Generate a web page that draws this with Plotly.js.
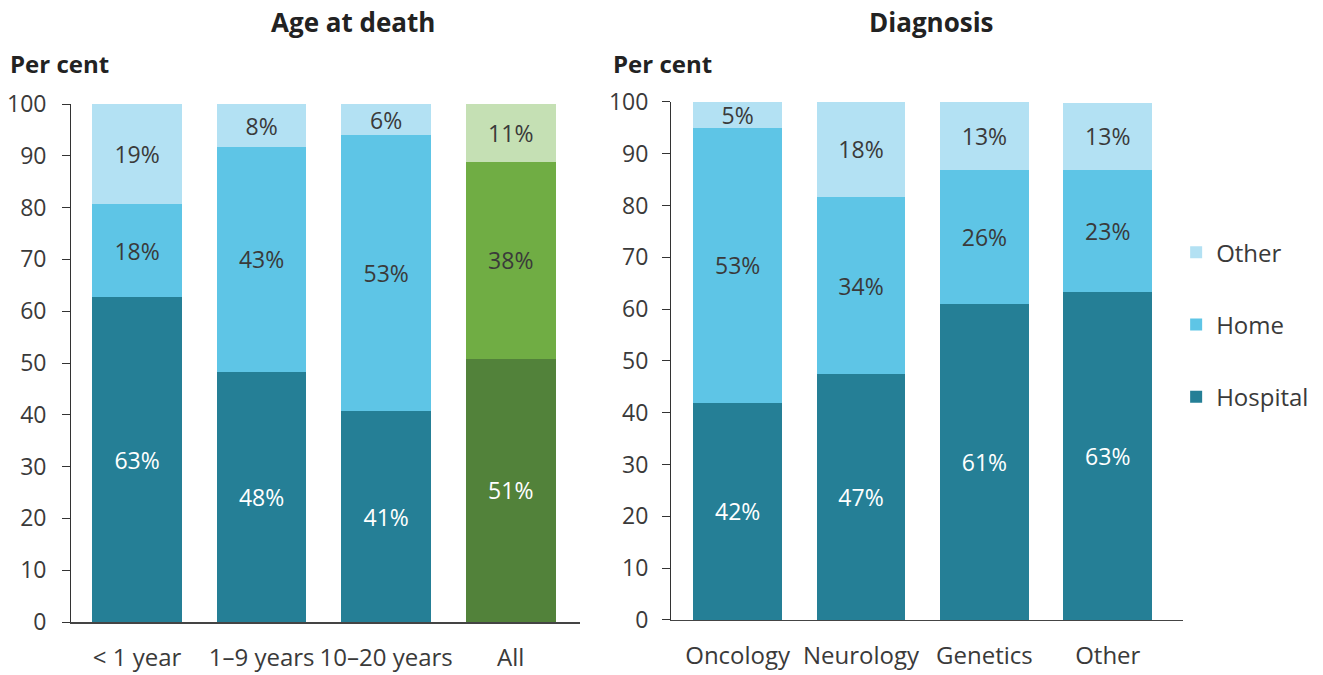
<!DOCTYPE html>
<html><head><meta charset="utf-8">
<script src="https://cdn.plot.ly/plotly-3.0.1.min.js"></script>
<style>html,body{margin:0;padding:0;background:#fff}#chart{width:1323px;height:675px}</style>
</head><body><div id="chart"></div>
<script>
// Left panel: Age at death
const ageCategories = ['< 1 year', '1–9 years', '10–20 years', 'All'];
const ageHospital = [62.7, 48.3, 40.7, 50.8];
const ageHome = [18.0, 43.4, 53.3, 38.0];
const ageOther = [19.3, 8.3, 6.0, 11.2];

// Right panel: Diagnosis
const diagCategories = ['Oncology', 'Neurology', 'Genetics', 'Other'];
const diagHospital = [41.9, 47.4, 61.0, 63.4];
const diagHome = [53.1, 34.3, 25.9, 23.4];
const diagOther = [5.0, 18.3, 13.1, 13.1];

const seriesNames = ['Hospital', 'Home', 'Other'];
const yTicks = [0, 10, 20, 30, 40, 50, 60, 70, 80, 90, 100];

const C = {hospital:'#257F96', home:'#5EC5E6', other:'#B3E1F3',
           gDark:'#52823A', gMid:'#70AD44', gLight:'#C5E0B4'};
const FONT = "'Open Sans', 'Noto Sans', sans-serif";
const dark = '#3a3a3a';

function mk(cats, vals, name, rank, colors, tcolors, xa, ya, showleg) {
  return {
    type:'bar', x:cats, y:vals, name:name, xaxis:xa, yaxis:ya,
    width:0.72, marker:{color:colors, line:{width:0}},
    texttemplate:'%{y:.0f}%', textposition:'inside', insidetextanchor:'middle',
    textangle:0, constraintext:'none',
    textfont:{family:FONT, size:23, color:tcolors},
    showlegend:showleg, legendgroup:name, legendrank:rank, hoverinfo:'skip'
  };
}
const n = 4;
const rep = (c) => Array(n).fill(c);
const traces = [
  mk(ageCategories, ageHospital, seriesNames[0], 3, [C.hospital,C.hospital,C.hospital,C.gDark], rep('#ffffff'), 'x', 'y', true),
  mk(ageCategories, ageHome, seriesNames[1], 2, [C.home,C.home,C.home,C.gMid], rep(dark), 'x', 'y', true),
  mk(ageCategories, ageOther, seriesNames[2], 1, [C.other,C.other,C.other,C.gLight], rep(dark), 'x', 'y', true),
  mk(diagCategories, diagHospital, seriesNames[0], 3, rep(C.hospital), rep('#ffffff'), 'x2', 'y2', false),
  mk(diagCategories, diagHome, seriesNames[1], 2, rep(C.home), rep(dark), 'x2', 'y2', false),
  mk(diagCategories, diagOther, seriesNames[2], 1, rep(C.other), rep(dark), 'x2', 'y2', false)
];

const yax = (dom, anchor, standoff) => ({
  domain:dom, anchor:anchor, range:[0,100], tickvals:yTicks, showgrid:false, zeroline:false,
  showline:true, linecolor:'#333', linewidth:1, ticks:'outside', ticklen:8, tickcolor:'#333',
  ticklabelstandoff:standoff, tickfont:{family:FONT, size:23, color:dark}, fixedrange:true
});
const xax = (dom, anchor, rng) => ({
  domain:dom, anchor:anchor, type:'category', range:rng, showgrid:false, zeroline:false,
  showline:true, linecolor:'#444', linewidth:1.5, ticks:'', ticklabelstandoff:14,
  tickfont:{family:FONT, size:24, color:dark}, fixedrange:true
});

const layout = {
  width:1323, height:675, margin:{l:0, r:0, t:0, b:0},
  paper_bgcolor:'#fff', plot_bgcolor:'rgba(0,0,0,0)', barmode:'stack',
  font:{family:FONT, color:dark},
  uniformtext:{mode:'show', minsize:23},
  xaxis: xax([0.0537, 0.4384], 'y', [-0.53, 3.556]),
  yaxis: yax([0.0785, 0.8459], 'x', 11),
  xaxis2: xax([0.5072, 0.8942], 'y2', [-0.54, 3.61]),
  yaxis2: yax([0.0815, 0.8489], 'x2', 9),
  showlegend:true,
  legend:{x:0.889, xanchor:'left', y:0.659, yanchor:'top', traceorder:'grouped',
          tracegroupgap:38, font:{family:FONT, size:24, color:dark}, itemwidth:30,
          bgcolor:'rgba(0,0,0,0)'},
  annotations:[
    {text:'<b>Age at death</b>', xref:'paper', yref:'paper', x:353/1323, y:1-22/675, showarrow:false,
     xanchor:'center', yanchor:'middle', font:{family:FONT, size:26, color:'#222'}},
    {text:'<b>Diagnosis</b>', xref:'paper', yref:'paper', x:931/1323, y:1-22/675, showarrow:false,
     xanchor:'center', yanchor:'middle', font:{family:FONT, size:26, color:'#222'}},
    {text:'<b>Per cent</b>', xref:'paper', yref:'paper', x:8/1323, y:1-64/675, showarrow:false,
     xanchor:'left', yanchor:'middle', font:{family:FONT, size:24, color:'#222'}},
    {text:'<b>Per cent</b>', xref:'paper', yref:'paper', x:611/1323, y:1-64/675, showarrow:false,
     xanchor:'left', yanchor:'middle', font:{family:FONT, size:24, color:'#222'}}
  ]
};
Plotly.newPlot('chart', traces, layout, {staticPlot:true, displayModeBar:false});
</script></body></html>
